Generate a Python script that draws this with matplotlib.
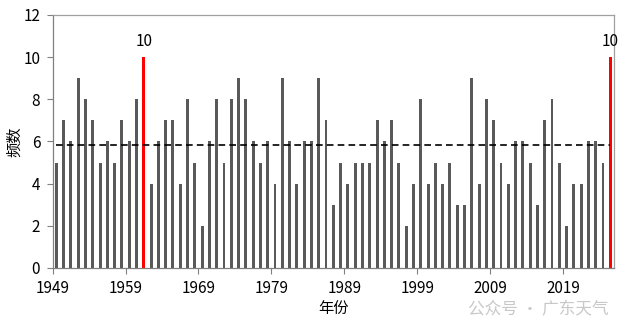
import matplotlib
matplotlib.use("Agg")
import matplotlib.pyplot as plt
import numpy as np

plt.rcParams['font.family'] = ['Noto Sans CJK SC', 'DejaVu Sans']

years = list(range(1949, 2026))
counts = [5, 7, 6, 9, 8, 7, 5, 6, 5, 7, 6, 8, 10, 4, 6, 7, 7, 4, 8, 5,
          2, 6, 8, 5, 8, 9, 8, 6, 5, 6, 4, 9, 6, 4, 6, 6, 9, 7, 3, 5, 4,
          5, 5, 5, 7, 6, 7, 5, 2, 4, 8, 4, 5, 4, 5, 3, 3, 9, 4, 8, 7, 5,
          4, 6, 6, 5, 3, 7, 8, 5, 2, 4, 4, 6, 6, 5, 10]
highlight_years = [1961, 2025]
tick_years = [1949, 1959, 1969, 1979, 1989, 1999, 2009, 2019]
y_ticks = [0, 2, 4, 6, 8, 10, 12]

fig = plt.figure(figsize=(6.4, 3.26), dpi=100)
ax = fig.add_axes([0.0823, 0.178, 0.877, 0.776])

x = np.arange(len(years))
colors = ['#ff0000' if y in highlight_years else '#595959' for y in years]
ax.bar(x, counts, width=0.4, color=colors, linewidth=0, zorder=2)

mean_val = np.mean(counts)
ax.plot([0, len(years) - 1], [mean_val, mean_val], color='black',
        linestyle=(0, (4, 2.5)), linewidth=1.2, zorder=3)

for i, (yr, c) in enumerate(zip(years, counts)):
    if yr in highlight_years:
        ax.text(i, c + 0.35, str(c), ha='center', va='bottom', fontsize=11,
                color='black')

ax.set_xlim(-0.5, len(years) - 0.5)
ax.set_ylim(0, 12)
ax.set_yticks(y_ticks)
ax.set_yticklabels([str(v) for v in y_ticks], fontsize=11)
ax.set_xticks([years.index(t) - 0.5 for t in tick_years])
ax.set_xticklabels([str(t) for t in tick_years], fontsize=11)
ax.tick_params(axis='both', direction='out', length=4, width=0.8, color='#808080')
ax.tick_params(axis='x', pad=5)
ax.tick_params(axis='y', pad=5)

for s in ax.spines.values():
    s.set_color('#a0a0a0')
    s.set_linewidth(0.9)
ax.spines['left'].set_color('#808080')
ax.spines['bottom'].set_color('#808080')

ax.set_xlabel('年份', fontsize=11, labelpad=2)
ax.set_ylabel('频数', fontsize=11, labelpad=0)

fig.text(0.732, 0.05, '公众号 · 广东天气', fontsize=12, color='#c8c8c8',
         ha='left', va='center', zorder=0)

fig.savefig('out.png', dpi=100)
